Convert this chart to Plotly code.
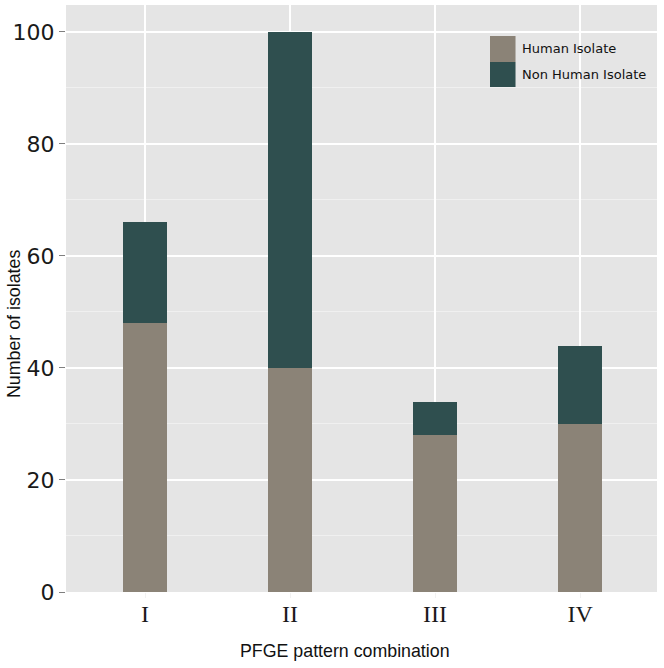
import plotly.graph_objects as go

categories = ["I", "II", "III", "IV"]
human = [48, 40, 28, 30]
non_human = [18, 60, 6, 14]
series_names = ["Human Isolate", "Non Human Isolate"]
series_colors = ["#8B8377", "#2F4F4F"]
y_ticks = [0, 20, 40, 60, 80, 100]
x_title = "PFGE pattern combination"
y_title = "Number of isolates"

fig = go.Figure()
fig.add_trace(go.Bar(x=categories, y=human, name=series_names[0],
                     marker=dict(color=series_colors[0], line=dict(width=0)),
                     width=0.3, showlegend=False))
fig.add_trace(go.Bar(x=categories, y=non_human, name=series_names[1],
                     marker=dict(color=series_colors[1], line=dict(width=0)),
                     width=0.3, showlegend=False))

# manual legend (transparent, large keys)
key_x0, key_x1 = 0.7174, 0.7606
key_rows = [(0.9472, 0.9029), (0.9029, 0.8603)]
for (ytop, ybot), name, col in zip(key_rows, series_names, series_colors):
    fig.add_shape(type="rect", xref="paper", yref="paper",
                  x0=key_x0, x1=key_x1, y0=ybot, y1=ytop,
                  fillcolor=col, line=dict(width=0), layer="above")
    fig.add_annotation(xref="paper", yref="paper", x=0.7682, y=(ytop + ybot) / 2,
                       text=name, showarrow=False, xanchor="left", yanchor="middle",
                       font=dict(family="DejaVu Sans", size=13, color="#111111"))

# axis titles (placed as in the reference, slightly off-centre)
fig.add_annotation(xref="paper", yref="paper", x=0.4729, y=-0.1005,
                   text=x_title, showarrow=False, xanchor="center", yanchor="middle",
                   font=dict(family="Liberation Sans, Arial", size=17.8, color="#111111"))
fig.add_annotation(xref="paper", yref="paper", x=-0.088, y=0.4566,
                   text=y_title, showarrow=False, textangle=-90,
                   xanchor="center", yanchor="middle",
                   font=dict(family="Liberation Sans, Arial", size=17.8, color="#111111"))

fig.update_layout(
    barmode="stack",
    width=664, height=668,
    margin=dict(l=66, r=7, t=5, b=76),
    paper_bgcolor="white",
    plot_bgcolor="#E5E5E5",
    xaxis=dict(
        range=[-0.545, 3.53],
        showgrid=True, gridcolor="white", gridwidth=1.5,
        ticks="outside", ticklen=5, tickcolor="#F2F2F2",
        ticklabelstandoff=-5,
        tickfont=dict(family="Liberation Serif", size=24, color="#1a1a1a"),
        zeroline=False, automargin=False,
    ),
    yaxis=dict(
        range=[0, 104.8],
        tickvals=y_ticks,
        showgrid=True, gridcolor="white", gridwidth=1.5,
        minor=dict(dtick=10, tick0=0, showgrid=True, gridcolor="#F0F0F0", gridwidth=0.7),
        ticks="outside", ticklen=6, tickcolor="#7F7F7F",
        tickfont=dict(family="DejaVu Sans", size=22, color="#1a1a1a"),
        zeroline=False, automargin=False,
    ),
    bargap=0,
)

fig.write_html("out.html", config={"displayModeBar": False},
               post_script="document.body.style.margin='0';document.body.style.overflow='hidden';")
